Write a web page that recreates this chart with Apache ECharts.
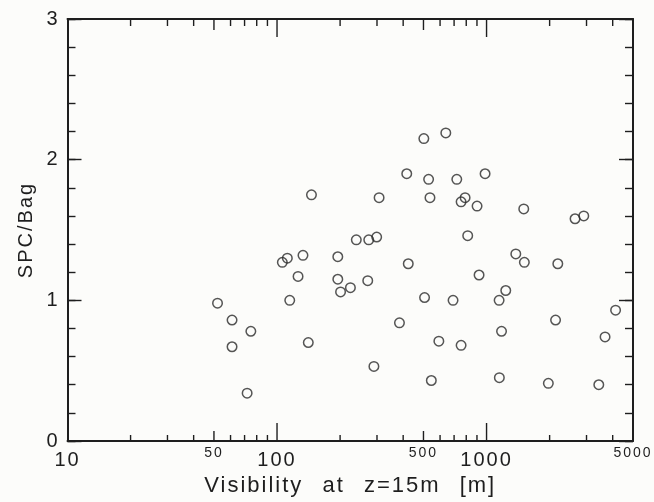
<!DOCTYPE html>
<html>
<head>
<meta charset="utf-8">
<script src="https://cdn.jsdelivr.net/npm/echarts@6/dist/echarts.min.js"></script>
<style>
html,body{margin:0;padding:0;background:#fcfcfa;}
#chart{width:654px;height:502px;}
</style>
</head>
<body>
<div id="chart"></div>
<script>
// ---- data ----
const visibility = [52, 61, 61, 75, 72, 106, 112, 115, 126, 133, 141, 146, 195, 195, 201, 224, 239, 274, 299, 271,
  307, 290, 384, 416, 423, 502, 529, 537, 506, 545, 592, 639, 692, 721, 756, 790, 756, 813, 901, 921,
  984, 1148, 1151, 1179, 1235, 1379, 1505, 1515, 1972, 2135, 2188, 2645, 2911, 3433, 3678, 4129];
const spcBag = [0.98, 0.86, 0.67, 0.78, 0.34, 1.27, 1.30, 1.00, 1.17, 1.32, 0.70, 1.75, 1.31, 1.15, 1.06, 1.09, 1.43, 1.43, 1.45, 1.14,
  1.73, 0.53, 0.84, 1.90, 1.26, 2.15, 1.86, 1.73, 1.02, 0.43, 0.71, 2.19, 1.00, 1.86, 1.70, 1.73, 0.68, 1.46, 1.67, 1.18,
  1.90, 1.00, 0.45, 0.78, 1.07, 1.33, 1.65, 1.27, 0.41, 0.86, 1.26, 1.58, 1.60, 0.40, 0.74, 0.93];

const xMajorLabels = [10, 100, 1000];
const xMinorLabels = [50, 500, 5000];
// log-axis tick values and their class (0 = decade, 1 = half decade, 2 = minor)
const xTickValues = [20, 30, 40, 50, 60, 70, 80, 90, 100, 200, 300, 400, 500, 600, 700, 800, 900, 1000, 2000, 3000, 4000];
const xTickClass  = [2, 2, 2, 1, 2, 2, 2, 2, 0, 2, 2, 2, 1, 2, 2, 2, 2, 0, 2, 2, 2];
const yLabels = [0, 1, 2, 3];

const xName = 'Visibility at z=15m [m]';
const yName = 'SPC/Bag';

const FONT = 'Liberation Sans';
const INK = '#1e1e1e';
const TICK_LEN_BOTTOM = [18, 10, 6];
const TICK_LEN_TOP = [18, 11, 7];

function logAx(pos, extra) {
  return Object.assign({
    type: 'log', logBase: 10, min: 10, max: 5000, position: pos, gridIndex: 0,
    axisLine: { show: false },
    axisTick: { show: false },
    axisLabel: { show: false },
    splitLine: { show: false }, minorTick: { show: false }
  }, extra || {});
}
function labelAx(pos, labels, fontSize, extra) {
  return logAx(pos, Object.assign({
    axisLabel: {
      show: true, customValues: labels, fontFamily: FONT, fontSize: fontSize, color: INK,
      margin: fontSize > 16 ? 9 : 5, formatter: v => String(Math.round(v))
    }
  }, extra || {}));
}
function yAx(pos, interval, len, showLabel, extra) {
  return Object.assign({
    type: 'value', min: 0, max: 3, interval: interval, position: pos,
    axisLine: { show: false, onZero: false, lineStyle: { color: INK, width: 2 } },
    axisTick: { show: true, inside: true, length: len, lineStyle: { color: INK, width: 1.4 } },
    axisLabel: showLabel ? { show: true, fontFamily: FONT, fontSize: 20, color: INK, margin: 8,
      formatter: v => yLabels.indexOf(v) >= 0 ? String(v) : '' } : { show: false },
    splitLine: { show: false }
  }, extra || {});
}
const frameLine = { show: true, onZero: false, lineStyle: { color: INK, width: 2 } };

const option = {
  backgroundColor: '#fcfcfa',
  animation: false,
  grid: { left: 67.5, right: 21, top: 19, bottom: 58.5, containLabel: false, show: false },
  xAxis: [
    labelAx('bottom', xMajorLabels, 20, {
      axisLine: { show: true, lineStyle: { color: INK, width: 2 } },
      name: xName, nameLocation: 'middle', nameGap: 34,
      nameTextStyle: { fontFamily: FONT, fontSize: 22, color: INK }
    }),
    labelAx('bottom', xMinorLabels, 14),
    logAx('top', { axisLine: frameLine })
  ],
  yAxis: [
    yAx('left', 1, 14, true, {
      axisLine: frameLine,
      name: yName, nameLocation: 'middle', nameGap: 31, nameRotate: 90,
      nameTextStyle: { fontFamily: FONT, fontSize: 20, color: INK }
    }),
    yAx('left', 0.2, 8, false),
    yAx('right', 1, 14, false, { axisLine: frameLine }),
    yAx('right', 0.2, 8, false)
  ],
  series: [{
    type: 'scatter', xAxisIndex: 0, yAxisIndex: 0,
    symbol: 'circle', symbolSize: 9.5,
    itemStyle: { color: 'rgba(0,0,0,0)', borderColor: '#2a2a2a', borderWidth: 1.5 },
    data: visibility.map((v, i) => [v, spcBag[i]])
  }]
};

const chart = echarts.init(document.getElementById('chart'), null, { renderer: 'canvas' });
chart.setOption(option);
// widen the typewriter-like spacing of the scanned lettering
document.querySelectorAll('#chart canvas').forEach(function (c) {
  const ctx = c.getContext('2d');
  if ('letterSpacing' in ctx) { ctx.letterSpacing = '2px'; }
  if ('wordSpacing' in ctx) { ctx.wordSpacing = '11px'; }
});
chart.clear();
chart.setOption(option);

// x-axis tick marks on the bottom and top edges, placed through the log axis scale
const yBottom = chart.convertToPixel({ yAxisIndex: 0 }, 0);
const yTop = chart.convertToPixel({ yAxisIndex: 0 }, 3);
const tickEls = [];
xTickValues.forEach(function (v, i) {
  const x = chart.convertToPixel({ xAxisIndex: 0 }, v);
  if (x == null || isNaN(x)) return;
  const lb = TICK_LEN_BOTTOM[xTickClass[i]];
  const lt = TICK_LEN_TOP[xTickClass[i]];
  tickEls.push({ type: 'rect', silent: true, z: 50,
    shape: { x: x - 0.7, y: yBottom - lb, width: 1.4, height: lb }, style: { fill: INK } });
  tickEls.push({ type: 'rect', silent: true, z: 50,
    shape: { x: x - 0.7, y: yTop, width: 1.4, height: lt }, style: { fill: INK } });
});
chart.setOption({ graphic: { elements: tickEls } });
</script>
</body>
</html>
